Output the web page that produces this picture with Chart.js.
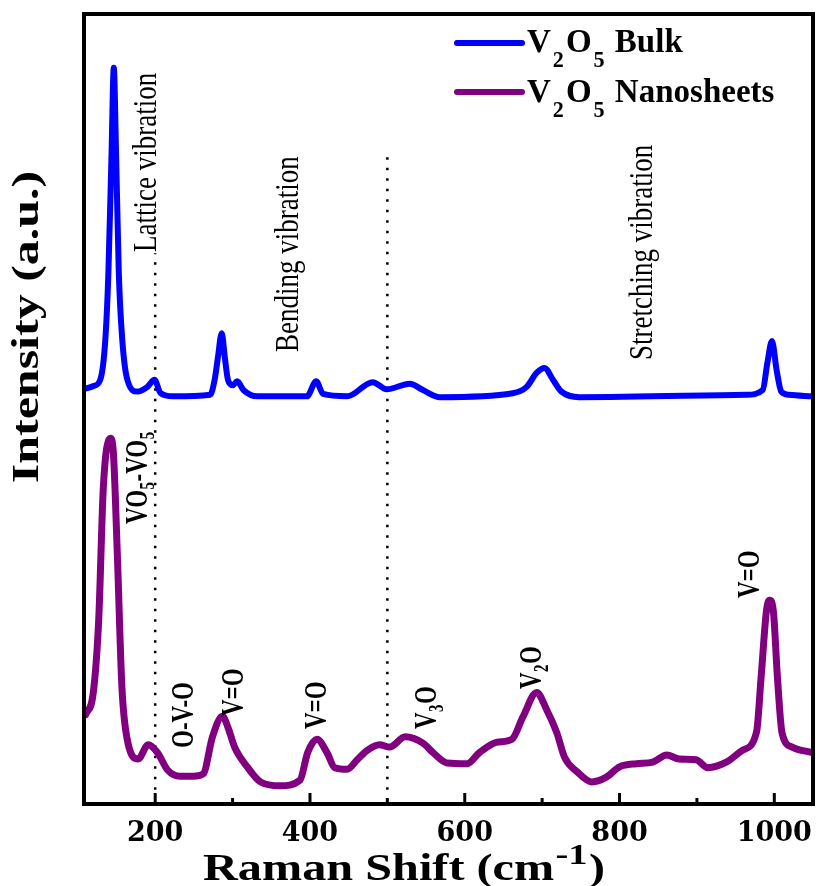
<!DOCTYPE html>
<html>
<head>
<meta charset="utf-8">
<script src="https://cdn.jsdelivr.net/npm/chart.js@4.4.1/dist/chart.umd.min.js"></script>
<style>
  body { margin: 0; background: #fff; }
  canvas { display: block; }
</style>
</head>
<body>
<canvas id="raman" width="816" height="886"></canvas>
<script>
// Raman spectra (shift in cm-1, intensity in arbitrary units 0-100)
const bulkShift = [108, 120, 129, 135.5, 139.5, 143.5, 146.5, 149.5, 153, 157.5, 164, 177, 190, 199, 207, 223, 271, 277, 281, 286, 290, 294, 300, 306, 314, 332, 396, 408, 417, 448, 481, 499, 529, 546, 568, 662, 680, 693, 703, 714, 725, 748, 964, 985, 991, 997, 1003, 1009, 1019, 1049];
const bulkIntensity = [52.5, 52.9, 53.7, 58.7, 67.2, 82.0, 93.2, 82.0, 67.2, 58.7, 53.7, 52.2, 52.8, 53.7, 52.0, 51.6, 51.8, 53.8, 56.5, 59.6, 56.5, 53.7, 53.0, 53.5, 52.4, 51.6, 51.6, 53.5, 51.9, 51.6, 53.4, 52.5, 53.2, 52.4, 51.5, 52.0, 52.8, 54.6, 55.2, 53.7, 52.2, 51.5, 51.8, 52.4, 55.8, 58.6, 54.9, 52.2, 51.8, 51.6];

const nanoShift = [110, 120, 127, 133, 142, 146, 151, 157, 164, 178, 191, 203, 216, 232, 249, 262, 274, 287, 294, 303, 319, 336, 361, 387, 397, 409, 422, 432, 448, 461, 474, 490, 503, 523, 546, 559, 577, 603, 619, 641, 661, 675, 693, 706, 719, 729, 745, 764, 783, 800, 822, 843, 861, 877, 899, 914, 938, 959, 977, 983, 990, 994, 999, 1004, 1010, 1023, 1049];
const nanoIntensity = [11.3, 14.1, 23.3, 40.1, 46.3, 44.4, 31.8, 14.8, 8.1, 5.7, 7.5, 6.5, 4.3, 3.5, 3.5, 3.8, 8.5, 11.1, 9.7, 7.1, 4.7, 2.8, 2.3, 3.0, 6.5, 8.2, 6.5, 4.6, 4.4, 5.6, 6.8, 7.5, 7.2, 8.5, 7.7, 6.5, 5.2, 5.1, 6.5, 7.8, 8.2, 11.0, 14.1, 11.9, 9.0, 5.9, 4.1, 2.8, 3.4, 4.7, 5.1, 5.3, 6.2, 5.7, 5.6, 4.6, 5.3, 6.8, 9.1, 16.1, 24.6, 25.8, 24.2, 16.1, 9.0, 7.2, 6.5];

// dotted region dividers
const dividerShift = [200, 500];
const dividerTop = [69.7, 82.2];
const dividerBottom = [1.8, 1.8];

const xMajorTicks = [200, 400, 600, 800, 1000];
const xMinorTicks = [300, 500, 700, 900];

const SERIF = '"Liberation Serif", "Times New Roman", serif';

function toPoints(xs, ys) {
  return xs.map((x, i) => ({ x: x, y: ys[i] }));
}

// draw text made of normal / sub / sup pieces, left aligned on the baseline
function drawRich(ctx, parts, x, y, o) {
  let cx = x;
  parts.forEach(p => {
    const kind = p[1] || 'n';
    const size = kind === 'n' ? o.size : o.size * (kind === 'sub' ? o.subScale : o.supScale);
    const dy = kind === 'sub' ? o.size * o.subDy : kind === 'sup' ? -o.size * o.supDy : 0;
    ctx.font = o.weight + ' ' + size + 'px ' + SERIF;
    if (kind !== 'n') cx += o.gap || 0;
    ctx.fillText(p[0], cx, y + dy);
    cx += ctx.measureText(p[0]).width;
    if (kind !== 'n') cx += o.gap || 0;
  });
  return cx - x;
}

function richWidth(ctx, parts, o) {
  ctx.save();
  ctx.globalAlpha = 0;
  const w = drawRich(ctx, parts, 0, 0, o);
  ctx.restore();
  return w;
}

// vertical text, reading bottom to top; baseline at bx, starting at sy
function drawUp(ctx, parts, bx, sy, o, along, cross) {
  ctx.save();
  ctx.translate(bx, sy);
  ctx.rotate(-Math.PI / 2);
  ctx.scale(along, cross);
  drawRich(ctx, parts, 0, 0, o);
  ctx.restore();
}

const regionLabels = [
  { parts: [['Lattice vibration']], bx: 156, sy: 252 },
  { parts: [['Bending vibration']], bx: 298, sy: 352 },
  { parts: [['Stretching vibration']], bx: 652, sy: 360 }
];

const bandLabels = [
  { parts: [['VO'], ['5', 'sub'], ['-VO'], ['5', 'sub']], bx: 147, sy: 524 },
  { parts: [['O-V-O']], bx: 193, sy: 748 },
  { parts: [['V=O']], bx: 243, sy: 716 },
  { parts: [['V=O']], bx: 326, sy: 729 },
  { parts: [['V'], ['3', 'sub'], ['O']], bx: 436, sy: 729 },
  { parts: [['V'], ['2', 'sub'], ['O']], bx: 541, sy: 689 },
  { parts: [['V=O']], bx: 759, sy: 598 }
];

const legendItems = [
  { name: [['V'], ['2', 'sub'], ['O'], ['5', 'sub'], [' Bulk']], color: '#0000ff', width: 6, y: 43, base: 52 },
  { name: [['V'], ['2', 'sub'], ['O'], ['5', 'sub'], [' Nanosheets']], color: '#800080', width: 6, y: 92, base: 102 }
];

const decorations = {
  id: 'decorations',
  afterDraw(chart) {
    const ctx = chart.ctx;
    const a = chart.chartArea;
    const xs = chart.scales.x;

    ctx.save();
    ctx.fillStyle = '#000';
    ctx.strokeStyle = '#000';
    ctx.textAlign = 'left';
    ctx.textBaseline = 'alphabetic';

    // frame
    ctx.lineWidth = 4;
    ctx.strokeRect(a.left, a.top, a.right - a.left, a.bottom - a.top);

    // inward ticks on the bottom axis
    ctx.lineWidth = 3;
    xMajorTicks.concat(xMinorTicks).forEach(v => {
      const px = xs.getPixelForValue(v);
      const len = xMajorTicks.includes(v) ? 11 : 6;
      ctx.beginPath();
      ctx.moveTo(px, a.bottom);
      ctx.lineTo(px, a.bottom - len);
      ctx.stroke();
    });

    // region names
    const reg = { size: 27, weight: 'normal' };
    regionLabels.forEach(l => drawUp(ctx, l.parts, l.bx, l.sy, reg, 1.0, 1.25));

    // band assignments
    const band = { size: 23, weight: 'bold', subScale: 0.65, subDy: 0.22, gap: 0.5 };
    bandLabels.forEach(l => drawUp(ctx, l.parts, l.bx, l.sy, band, 1.0, 1.4));

    // y title
    const yt = { size: 40, weight: 'bold' };
    const ytParts = [['Intensity (a.u.)']];
    const ytw = richWidth(ctx, ytParts, yt);
    ctx.save();
    ctx.translate(38, 327);
    ctx.rotate(-Math.PI / 2);
    ctx.scale(1.25, 0.95);
    drawRich(ctx, ytParts, -ytw / 2, 0, yt);
    ctx.restore();

    // x title
    const xt = { size: 38, weight: 'bold', supScale: 0.8, supDy: 0.42, gap: 1 };
    const xtParts = [['Raman Shift (cm'], ['-1', 'sup'], [')']];
    const xtw = richWidth(ctx, xtParts, xt);
    ctx.save();
    ctx.translate(404, 880);
    ctx.scale(1.27, 1);
    drawRich(ctx, xtParts, -xtw / 2, 0, xt);
    ctx.restore();

    // legend
    const lg = { size: 33, weight: 'bold', subScale: 0.67, subDy: 0.45, gap: 2 };
    legendItems.forEach(it => {
      ctx.strokeStyle = it.color;
      ctx.lineWidth = it.width;
      ctx.lineCap = 'round';
      ctx.beginPath();
      ctx.moveTo(457, it.y);
      ctx.lineTo(522, it.y);
      ctx.stroke();
      drawRich(ctx, it.name, 527, it.base, lg);
    });

    ctx.restore();
  }
};

const dividerSets = dividerShift.map((x, i) => ({
  label: 'divider ' + x,
  data: [{ x: x, y: dividerBottom[i] }, { x: x, y: dividerTop[i] }],
  borderColor: '#000',
  borderWidth: 2.5,
  borderDash: [2.5, 8],
  pointRadius: 0,
  order: 3
}));

new Chart(document.getElementById('raman'), {
  type: 'line',
  data: {
    datasets: [
      {
        label: 'V2O5 Bulk',
        data: toPoints(bulkShift, bulkIntensity),
        borderColor: '#0000ff',
        borderWidth: 6,
        pointRadius: 0,
        cubicInterpolationMode: 'monotone',
        borderJoinStyle: 'round',
        borderCapStyle: 'round',
        order: 1
      },
      {
        label: 'V2O5 Nanosheets',
        data: toPoints(nanoShift, nanoIntensity),
        borderColor: '#800080',
        borderWidth: 7,
        pointRadius: 0,
        cubicInterpolationMode: 'monotone',
        borderJoinStyle: 'round',
        borderCapStyle: 'round',
        order: 2
      }
    ].concat(dividerSets)
  },
  options: {
    responsive: false,
    animation: false,
    devicePixelRatio: 1,
    layout: { padding: { left: 84, right: 3, top: 14, bottom: 0 } },
    plugins: { legend: { display: false }, tooltip: { enabled: false } },
    scales: {
      x: {
        type: 'linear',
        min: 108,
        max: 1050,
        grid: { display: false, drawTicks: false },
        border: { display: false },
        afterBuildTicks: scale => {
          scale.ticks = xMajorTicks.concat(xMinorTicks).sort((p, q) => p - q).map(v => ({ value: v }));
        },
        afterFit: scale => {
          scale.height = 82;
          scale.paddingLeft = 0;
          scale.paddingRight = 0;
        },
        ticks: {
          padding: 14,
          maxRotation: 0,
          autoSkip: false,
          color: '#000',
          font: { family: 'DejaVu Serif', weight: 'bold', size: 27 },
          callback: v => (xMajorTicks.includes(v) ? String(v) : '')
        }
      },
      y: {
        type: 'linear',
        display: false,
        min: 0,
        max: 100
      }
    }
  },
  plugins: [decorations]
});
</script>
</body>
</html>
